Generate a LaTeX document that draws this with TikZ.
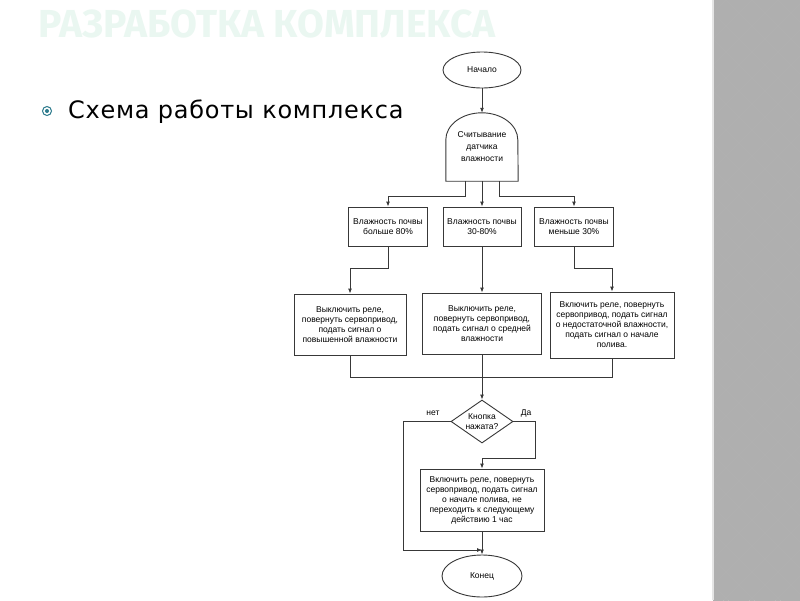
\documentclass[tikz,border=0pt]{standalone}
\usepackage{fontspec}
\setmainfont{Liberation Sans}
\newfontfamily\slidefont[LetterSpace=3]{DejaVu Sans}
\newfontfamily\headfont{Fira Sans}
\usetikzlibrary{arrows.meta,positioning,calc,shapes.geometric}
\definecolor{linegray}{HTML}{383838}
\definecolor{headmint}{HTML}{EAF7F1}
\definecolor{bulletteal}{HTML}{2B7A8C}
\definecolor{panelgray}{HTML}{BBBBBB}
\definecolor{paneldark}{HTML}{AFAFAF}

\begin{document}
\begin{tikzpicture}[x=1pt, y=-1pt,
    box/.style={rectangle, draw=linegray, line width=0.9pt, fill=white, font=\fontsize{8.5}{10}\selectfont, align=center, inner sep=2pt},
    term/.style={ellipse, draw=linegray, line width=0.9pt, fill=white, font=\fontsize{8.5}{10}\selectfont, inner sep=0pt},
    decision/.style={diamond, draw=linegray, line width=0.9pt, fill=white, aspect=1.44, minimum width=62pt, minimum height=43pt, inner sep=0pt, font=\fontsize{8.5}{10}\selectfont, align=center},
    lbl/.style={font=\fontsize{8.5}{10}\selectfont, inner sep=0pt},
    line/.style={draw=linegray, line width=0.9pt},
    arr/.style={line, -{Latex[length=5pt,width=4pt]}}
]
\useasboundingbox (0,0) rectangle (800,600);
\fill[white] (0,0) rectangle (800,600);

% right panel
\fill[panelgray] (713,0) rectangle (800,600);
\begin{scope}
\clip (713,0) rectangle (800,600);
\foreach \i in {0,...,4}
  \foreach \j in {0,...,23} {
    \fill[paneldark] ({713+26*\i},{26*\j}) +(-13,0) -- +(0,-13) -- +(13,0) -- +(0,13) -- cycle;
    \fill[paneldark] ({726+26*\i},{13+26*\j}) +(-13,0) -- +(0,-13) -- +(13,0) -- +(0,13) -- cycle;
  }
\end{scope}
\draw[white!80!gray, line width=1.5pt] (713,0) -- (713,600);

% slide title and bullet
\node[anchor=west, text=headmint, font=\headfont\bfseries\fontsize{39}{39}\selectfont, inner sep=0pt] (head) at (38,24) {РАЗРАБОТКА КОМПЛЕКСА};
\node[circle, draw=bulletteal, line width=1pt, minimum size=9pt, inner sep=0pt] (bullet) at (47,111) {};
\node[circle, fill=bulletteal, minimum size=4pt, inner sep=0pt] (bulletdot) at (bullet.center) {};
\node[anchor=base west, font=\slidefont\fontsize{24}{24}\selectfont, inner sep=0pt] (item) at (68,118) {Схема работы комплекса};

% flowchart
\node[term, minimum width=78pt, minimum height=36pt] (start) at (482,70) {Начало};
\node[font=\fontsize{8.5}{12}\selectfont, align=center, minimum width=72pt, minimum height=68pt, inner sep=0pt] (sensor) at (482,147) {Считывание\\датчика\\влажности};
\draw[line] (sensor.south west) -- ([yshift=-27pt]sensor.north west) arc[start angle=180, end angle=0, x radius=36pt, y radius=27pt] -- (sensor.south east) -- cycle;

\node[box, minimum width=79pt, minimum height=39pt] (hum1) at (388,226.5) {Влажность почвы\\больше 80\%};
\node[box, minimum width=78pt, minimum height=39pt] (hum2) at (482,226.5) {Влажность почвы\\30-80\%};
\node[box, minimum width=79pt, minimum height=39pt] (hum3) at (574,226.5) {Влажность почвы\\меньше 30\%};

\node[box, minimum width=112pt, minimum height=61pt] (act1) at (350,324.5) {Выключить реле,\\повернуть сервопривод,\\подать сигнал о\\повышенной влажности};
\node[box, minimum width=119pt, minimum height=61pt] (act2) at (482,323.5) {Выключить реле,\\повернуть сервопривод,\\подать сигнал о средней\\влажности};
\node[box, minimum width=124pt, minimum height=66pt] (act3) at (612,325) {Включить реле, повернуть\\сервопривод, подать сигнал\\о недостаточной влажности,\\подать сигнал о начале\\полива.};

\node[decision] (btn) at (482,421.5) {Кнопка\\нажата?};
\node[lbl] (nolbl) at (433,413) {нет};
\node[lbl] (yeslbl) at (526,413) {Да};

\node[box, minimum width=124pt, minimum height=62pt] (wait) at (482,500) {Включить реле, повернуть\\сервопривод, подать сигнал\\о начале полива, не\\переходить к следующему\\действию 1 час};
\node[term, minimum width=80pt, minimum height=42pt] (end) at (482,576) {Конец};

\coordinate (merge) at (482,377);
\coordinate (nobend) at (403,550);
\coordinate (nojoin) at (482,550);
\coordinate (yesbend) at (535,458);

\draw[arr] (start) -- (sensor.north);
\draw[arr] ([xshift=-17pt]sensor.south) -- ++(0,15) -| (hum1);
\draw[arr] (sensor.south) -- (hum2);
\draw[arr] ([xshift=17pt]sensor.south) -- ++(0,15) -| (hum3);
\draw[arr] (hum1.south) -- ++(0,22) -| (act1);
\draw[arr] (hum2) -- (act2);
\draw[arr] (hum3.south) -- ++(0,22) -| (act3);
\draw[line] (act1.south) |- (merge);
\draw[line] (act3.south) |- (merge);
\draw[arr] (act2) -- (btn);
\draw[arr] (btn.west) -| (nobend) -- (nojoin);
\draw[arr] (btn.east) -| (yesbend) -| (wait);
\draw[arr] (wait) -- (end);
\end{tikzpicture}
\end{document}
